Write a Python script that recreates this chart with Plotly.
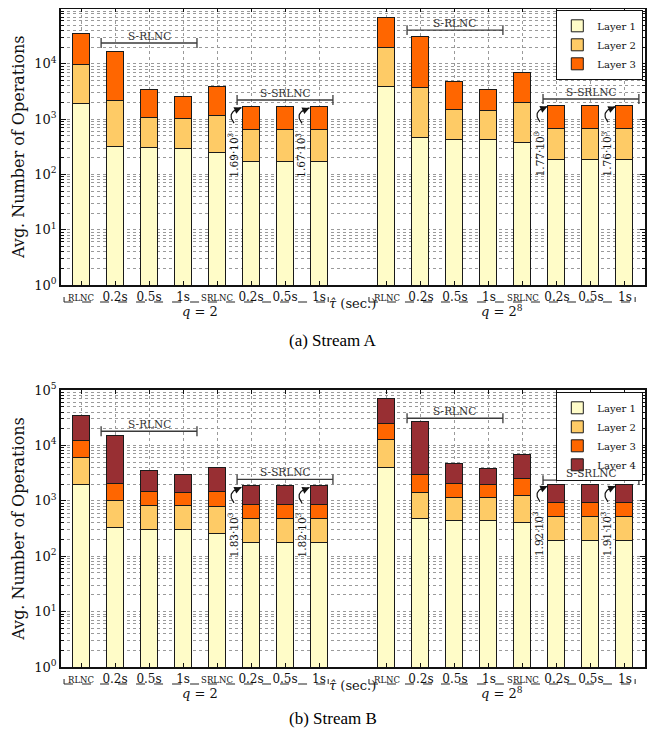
import numpy as np
import plotly.graph_objects as go

# ---------------- data ----------------
tick_labels = ["RLNC", "0.2s", "0.5s", "1s", "SRLNC", "0.2s", "0.5s", "1s"]
group_labels = ["<i>q</i> = 2", "<i>q</i> = 2<sup>8</sup>"]
layer_names = ["Layer 1", "Layer 2", "Layer 3", "Layer 4"]

# per-layer contributions (stacked), 8 bars for q=2 then 8 bars for q=2^8
a_layer1 = [1930, 325, 303, 297, 247, 173, 173, 173, 3860, 461, 431, 431, 385, 185, 185, 185]
a_layer2 = [7870, 1890, 772, 733, 903, 472, 467, 467, 15740, 3239, 1049, 1009, 1575, 505, 505, 505]
a_layer3 = [24800, 14800, 2385, 1560, 2710, 1045, 1040, 1030, 49900, 27200, 3260, 2020, 5060, 1080, 1075, 1070]

b_layer1 = [1900, 327, 300, 293, 248, 175, 175, 175, 3860, 464, 432, 432, 393, 186, 186, 186]
b_layer2 = [4100, 653, 506, 502, 516, 300, 300, 300, 8540, 901, 705, 690, 843, 324, 324, 324]
b_layer3 = [5900, 1060, 634, 605, 676, 375, 375, 375, 11600, 1555, 853, 838, 1204, 415, 415, 415]
b_layer4 = [22100, 12560, 2010, 1480, 2460, 980, 975, 970, 43900, 23180, 2570, 1840, 4330, 995, 990, 985]

# value labels on S-SRLNC bars (bar index -> text)
a_value_labels = {5: "1.69", 7: "1.67", 13: "1.77", 15: "1.76"}
b_value_labels = {5: "1.83", 7: "1.82", 13: "1.92", 15: "1.91"}

# brackets: (first bar, last bar, level, label)
a_brackets = [(1, 3, 23800, "S-RLNC"), (5, 7, 2215, "S-SRLNC"),
              (9, 11, 40800, "S-RLNC"), (13, 15, 2310, "S-SRLNC")]
b_brackets = [(1, 3, 18000, "S-RLNC"), (5, 7, 2440, "S-SRLNC"),
              (9, 11, 30900, "S-RLNC"), (13, 15, 2370, "S-SRLNC")]

colors = ["#FFFCC8", "#FECB66", "#FF6600", "#982F33"]

# ---------------- layout helpers ----------------
OFF = 8                       # page body margin
W, H = 666 - 2 * OFF, 737 - 2 * OFF
pos = list(range(8)) + list(range(9, 17))   # bar slots, one empty slot between groups
SERIF = "DejaVu Serif, serif"


def px_(x):
    return (x - OFF) / W


def py(y):
    return 1 - (y - OFF) / H


fig = go.Figure()

panels = [
    dict(layers=[a_layer1, a_layer2, a_layer3], labels=a_value_labels, brackets=a_brackets,
         xa="x", ya="y", legend="legend", top=8.5, bottom=285),
    dict(layers=[b_layer1, b_layer2, b_layer3, b_layer4], labels=b_value_labels, brackets=b_brackets,
         xa="x2", ya="y2", legend="legend2", top=390, bottom=667),
]

annotations = []
shapes = []

for pi, p in enumerate(panels):
    xa, ya = p["xa"], p["ya"]
    for li, vals in enumerate(p["layers"]):
        fig.add_trace(go.Bar(
            x=pos, y=vals, name=layer_names[li], width=0.5,
            marker=dict(color=colors[li], line=dict(color="#1a1a1a", width=1)),
            xaxis=xa, yaxis=ya, legend=p["legend"], hoverinfo="skip"))
    totals = np.sum(np.array(p["layers"]), axis=0)

    # brackets
    for b0, b1, lev, lab in p["brackets"]:
        x0, x1 = pos[b0] - 0.41, pos[b1] + 0.41
        fig.add_trace(go.Scatter(
            x=[x0, x1], y=[lev, lev], mode="lines+markers",
            line=dict(color="#3a3a3a", width=1.3),
            marker=dict(symbol="line-ns", size=7, line=dict(color="#3a3a3a", width=1.3)),
            xaxis=xa, yaxis=ya, showlegend=False, hoverinfo="skip"))
        annotations.append(dict(x=(x0 + x1) / 2, y=np.log10(lev), xref=xa, yref=ya, text=lab,
                                showarrow=False, xanchor="center", yanchor="bottom", yshift=-1,
                                font=dict(family=SERIF, size=10.5, color="#333333")))

    # rotated value labels with curved arrows
    for bi, txt in p["labels"].items():
        xp = pos[bi]
        t = np.log10(totals[bi])
        annotations.append(dict(x=xp - 0.55, y=t - 0.88, xref=xa, yref=ya,
                                text=txt + "·10<sup>3</sup>", textangle=-90, showarrow=False,
                                xanchor="center", yanchor="middle",
                                font=dict(family=SERIF, size=10.5, color="#111111")))
        S = np.array([xp - 0.5, t - 0.30])
        C = np.array([xp - 0.75, t - 0.10])
        E = np.array([xp - 0.28, t - 0.02])
        s = np.linspace(0, 1, 20)
        cx = (1 - s) ** 2 * S[0] + 2 * (1 - s) * s * C[0] + s ** 2 * E[0]
        cy = (1 - s) ** 2 * S[1] + 2 * (1 - s) * s * C[1] + s ** 2 * E[1]
        fig.add_trace(go.Scatter(x=cx, y=10 ** cy, mode="lines",
                                 line=dict(color="#111111", width=1.2),
                                 xaxis=xa, yaxis=ya, showlegend=False, hoverinfo="skip"))
        annotations.append(dict(x=E[0], y=E[1], xref=xa, yref=ya, text="", showarrow=True,
                                ax=-7, ay=3, arrowhead=2, arrowsize=1.2, arrowwidth=1.2,
                                arrowcolor="#111111"))

    # group dashed lines, group labels and tau label
    bot = p["bottom"]
    ydash = py(bot + 17)
    for g, (g0, g1) in enumerate([(-0.5, 7.27), (8.47, 16.3)]):
        shapes.append(dict(type="line", xref=xa, yref="paper", x0=g0, x1=g1, y0=ydash, y1=ydash,
                           line=dict(color="#222222", width=1, dash="dash")))
        for gx in (g0, g1):
            shapes.append(dict(type="line", xref=xa, yref="paper", x0=gx, x1=gx,
                               y0=ydash, y1=ydash + 5 / H, line=dict(color="#222222", width=1)))
        annotations.append(dict(x=(g0 + g1) / 2 + (0.1 if g == 0 else 0.0), y=py(bot + 26), xref=xa,
                                yref="paper", text=group_labels[g], showarrow=False,
                                xanchor="center", yanchor="middle",
                                font=dict(family=SERIF, size=13, color="#111111")))
    annotations.append(dict(x=7.98, y=py(bot + 18), xref=xa, yref="paper",
                            text="<i>τ̂</i> (sec.)", showarrow=False,
                            xanchor="center", yanchor="middle",
                            font=dict(family=SERIF, size=13, color="#111111")))

# captions
annotations.append(dict(x=px_(333), y=py(340), xref="paper", yref="paper", text="(a) Stream A",
                        showarrow=False, xanchor="center", yanchor="middle",
                        font=dict(family="Liberation Serif, serif", size=17, color="#000")))
annotations.append(dict(x=px_(333), y=py(718), xref="paper", yref="paper", text="(b) Stream B",
                        showarrow=False, xanchor="center", yanchor="middle",
                        font=dict(family="Liberation Serif, serif", size=17, color="#000")))

grid = dict(gridcolor="#9a9a9a", griddash="dot", gridwidth=1)
ytickvals = [1, 10, 100, 1000, 10000, 100000]
ytext = ["10<sup>%d</sup>" % k for k in range(6)]
yminor = [m * 10 ** k for k in range(5) for m in range(2, 10)]
xtext = [("<span style='font-size:8.5px'>%s</span>" % s) if "LNC" in s else s
         for s in tick_labels] * 2

xcommon = dict(range=[-0.59, 16.59], tickvals=pos, ticktext=xtext, ticks="inside", ticklen=4,
               tickcolor="#111", mirror="ticks", showline=True, linecolor="#111", linewidth=1.5,
               showgrid=True, zeroline=False, domain=[px_(61), px_(645)], automargin=False,
               tickfont=dict(family=SERIF, size=12, color="#111"), **grid)
ycommon = dict(type="log", range=[0, 5], tickvals=ytickvals, ticktext=ytext, ticks="inside",
               ticklen=5, tickcolor="#111", mirror="ticks", showline=True, linecolor="#111",
               linewidth=1.5, showgrid=True, zeroline=False, automargin=False,
               tickfont=dict(family=SERIF, size=13, color="#111"),
               title=dict(text="Avg. Number of Operations", standoff=6,
                          font=dict(family=SERIF, size=16, color="#111")),
               minor=dict(tickvals=yminor, ticks="inside", ticklen=3, tickcolor="#111",
                          showgrid=True, **grid),
               **grid)

legend_common = dict(xanchor="right", yanchor="top", x=px_(643), bordercolor="#111", borderwidth=1.3,
                     bgcolor="white", traceorder="normal", tracegroupgap=0,
                     font=dict(family=SERIF, size=10, color="#111"))

fig.update_layout(
    width=W, height=H, margin=dict(l=0, r=0, t=0, b=0, autoexpand=False),
    paper_bgcolor="white", plot_bgcolor="white", barmode="stack", bargap=0,
    xaxis=dict(anchor="y", **xcommon),
    xaxis2=dict(anchor="y2", **xcommon),
    yaxis=dict(anchor="x", domain=[py(285), py(8.5)], **ycommon),
    yaxis2=dict(anchor="x2", domain=[py(667), py(390)], **ycommon),
    legend=dict(y=py(10), **legend_common),
    legend2=dict(y=py(392), **legend_common),
    annotations=annotations, shapes=shapes,
)

fig.write_html("out.html")
